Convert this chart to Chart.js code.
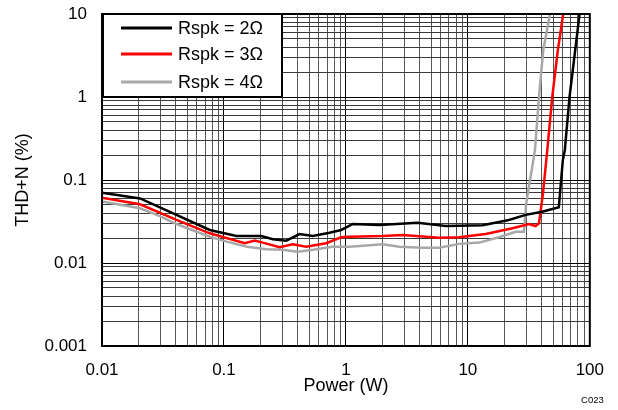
<!DOCTYPE html>
<html>
<head>
<meta charset="utf-8">
<script src="https://cdn.jsdelivr.net/npm/chart.js@4"></script>
<style>
  html, body { margin: 0; padding: 0; background: #ffffff; }
  #wrap { width: 618px; height: 410px; }
</style>
</head>
<body>
<div id="wrap"><canvas id="c" width="618" height="410"></canvas></div>
<script>
// ---- data ----
const seriesLabels = ['Rspk = 2\u03A9', 'Rspk = 3\u03A9', 'Rspk = 4\u03A9'];

const power2 = [0.01, 0.0205, 0.0408, 0.0765, 0.1265, 0.202, 0.252, 0.324, 0.417, 0.536, 0.733, 0.914, 1.14, 1.88, 3.87, 6.6, 13.2, 21.7, 29.8, 40.7, 55.7, 60.1, 62.4, 68.2, 82.4];
const thd2   = [0.070, 0.060, 0.038, 0.025, 0.0211, 0.0211, 0.0193, 0.0186, 0.0223, 0.0211, 0.0232, 0.025, 0.0295, 0.0287, 0.0306, 0.0279, 0.0285, 0.033, 0.038, 0.0415, 0.047, 0.174, 0.23, 1.0, 10];

const power3 = [0.01, 0.0205, 0.0408, 0.0765, 0.148, 0.179, 0.208, 0.286, 0.367, 0.472, 0.689, 0.914, 1.07, 2.0, 2.92, 5.82, 8.48, 14.0, 23.2, 31.7, 35.9, 38.3, 41.3, 44.8, 49.2, 54.7, 60.5];
const thd3   = [0.061, 0.051, 0.033, 0.0228, 0.0173, 0.0186, 0.0176, 0.0155, 0.0168, 0.0157, 0.0173, 0.0204, 0.0207, 0.0211, 0.0217, 0.0202, 0.0204, 0.0223, 0.0262, 0.0295, 0.0279, 0.0301, 0.069, 0.23, 1.0, 3.68, 10];

const power4 = [0.01, 0.0205, 0.0298, 0.0408, 0.0765, 0.105, 0.155, 0.222, 0.303, 0.403, 0.536, 0.78, 1.07, 2.0, 2.74, 4.25, 5.82, 8.48, 12.4, 18.0, 24.7, 28.8, 30.1, 33.7, 35.5, 38.3, 41.5, 47.1];
const thd4   = [0.055, 0.0456, 0.0368, 0.0295, 0.0207, 0.0181, 0.0157, 0.0146, 0.0144, 0.0137, 0.0144, 0.0157, 0.0157, 0.0168, 0.0157, 0.0153, 0.0153, 0.017, 0.0176, 0.0204, 0.0238, 0.0238, 0.0524, 0.144, 0.23, 1.0, 3.68, 10];

const xMajorTicks = [0.01, 0.1, 1, 10, 100];
const xTickLabels = ['0.01', '0.1', '1', '10', '100'];
const yMajorTicks = [0.001, 0.01, 0.1, 1, 10];
const yTickLabels = ['0.001', '0.01', '0.1', '1', '10'];
const minorSteps = [2, 3, 4, 5, 6, 7, 8, 9];

const xTitle = 'Power (W)';
const yTitle = 'THD+N (%)';
const footNote = 'C023';

// ---- helpers ----
const FONT = '"Liberation Sans", Arial, Helvetica, sans-serif';
function pts(xs, ys) { return xs.map((x, i) => ({ x: x, y: ys[i] })); }
function logTicks(majors) {
  const out = [];
  majors.forEach((m, i) => {
    out.push({ value: m });
    if (i < majors.length - 1) minorSteps.forEach(s => out.push({ value: m * s }));
  });
  return out;
}
function isMajor(v, majors) { return majors.some(m => Math.abs(v - m) / m < 1e-9); }
function labelFor(v, majors, labels) {
  for (let i = 0; i < majors.length; i++) if (Math.abs(v - majors[i]) / majors[i] < 1e-9) return labels[i];
  return '';
}

const frameAndLegend = {
  id: 'frameAndLegend',
  afterDraw(chart) {
    const ctx = chart.ctx, a = chart.chartArea;
    ctx.save();
    // plot frame
    ctx.strokeStyle = '#000';
    ctx.lineWidth = 2;
    ctx.strokeRect(a.left, a.top, a.right - a.left, a.bottom - a.top);
    // legend box
    const bx = a.left + 1, by = a.top, bw = 179, bh = 83;
    ctx.fillStyle = '#fff';
    ctx.fillRect(bx, by, bw, bh);
    ctx.lineWidth = 2;
    ctx.strokeStyle = '#000';
    ctx.strokeRect(bx, by, bw, bh);
    ctx.font = '18px ' + FONT;
    ctx.textBaseline = 'middle';
    ctx.textAlign = 'left';
    const rowY = [14, 40, 68];
    chart.data.datasets.forEach((ds, i) => {
      const y = by + rowY[i];
      ctx.strokeStyle = ds.borderColor;
      ctx.lineWidth = 3;
      ctx.beginPath();
      ctx.moveTo(bx + 18, y);
      ctx.lineTo(bx + 69, y);
      ctx.stroke();
      ctx.fillStyle = '#000';
      ctx.fillText(ds.label, bx + 75, y + 1);
    });
    // footnote
    ctx.font = '9.5px ' + FONT;
    ctx.textAlign = 'right';
    ctx.fillText(footNote, a.right + 14, 400);
    ctx.restore();
  }
};

new Chart(document.getElementById('c'), {
  type: 'line',
  data: {
    datasets: [
      { label: seriesLabels[0], data: pts(power2, thd2), borderColor: '#000000' },
      { label: seriesLabels[1], data: pts(power3, thd3), borderColor: '#ff0000' },
      { label: seriesLabels[2], data: pts(power4, thd4), borderColor: '#a8a8a8' }
    ].map(d => Object.assign(d, { borderWidth: 2.5, pointRadius: 0, tension: 0, fill: false }))
  },
  options: {
    responsive: false,
    animation: false,
    layout: { padding: { top: 14, right: 27, left: 0, bottom: 0 } },
    plugins: { legend: { display: false }, tooltip: { enabled: false } },
    scales: {
      x: {
        type: 'logarithmic',
        min: 0.01, max: 100,
        afterBuildTicks: s => { s.ticks = logTicks(xMajorTicks); },
        afterFit: s => { s.height = 64; },
        ticks: {
          autoSkip: false, maxRotation: 0, padding: 14,
          color: '#000', font: { family: FONT, size: 17 },
          callback: v => labelFor(v, xMajorTicks, xTickLabels)
        },
        grid: { color: ctx => (ctx.tick && isMajor(ctx.tick.value, xMajorTicks)) ? '#000' : '#555', lineWidth: 1, drawTicks: false },
        border: { display: false },
        title: { display: true, text: xTitle, color: '#000', font: { family: FONT, size: 18 }, padding: { top: 0, bottom: 13 } }
      },
      y: {
        type: 'logarithmic',
        min: 0.001, max: 10,
        afterBuildTicks: s => { s.ticks = logTicks(yMajorTicks); },
        afterFit: s => { s.width = 102; s.paddingTop = 0; s.paddingBottom = 0; },
        ticks: {
          autoSkip: false, padding: 15,
          color: '#000', font: { family: FONT, size: 17 },
          callback: v => labelFor(v, yMajorTicks, yTickLabels)
        },
        grid: { color: ctx => (ctx.tick && isMajor(ctx.tick.value, yMajorTicks)) ? '#000' : '#3a3a3a', lineWidth: 1, drawTicks: false },
        border: { display: false },
        title: { display: true, text: yTitle, color: '#000', font: { family: FONT, size: 18 }, padding: { top: 12, bottom: 0 } }
      }
    }
  },
  plugins: [frameAndLegend]
});
</script>
</body>
</html>
